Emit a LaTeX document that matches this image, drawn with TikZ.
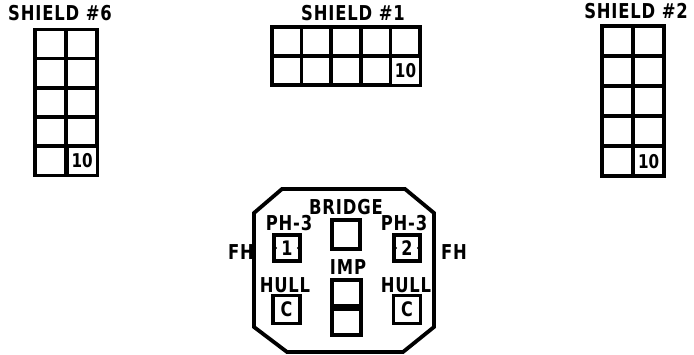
\documentclass[tikz,border=0pt]{standalone}
\usepackage{fontspec}
\setmainfont{DejaVu Sans}[FakeStretch=0.8]
\begin{document}
\begin{tikzpicture}[x=1pt,y=-1pt,
  lbl/.style={inner sep=0pt,font=\fontsize{20.5}{21}\selectfont\bfseries\addfontfeature{LetterSpace=4}},
  gridln/.style={line width=3.6pt,line cap=rect},
  box/.style={draw,line width=3.8pt,inner sep=0pt,font=\fontsize{20}{21}\selectfont\bfseries},
  tenbox/.style={draw,fill=white,line width=1.2pt,inner sep=0pt,font=\fontsize{19}{20}\selectfont\bfseries},
  notch/.style={fill=black}]
\useasboundingbox (0,0) rectangle (694,355);
% Shield 6: 2 cols x 5 rows
\foreach \i in {0,...,5} \draw[gridln] (35,{29.5+\i*29.2}) -- (97,{29.5+\i*29.2});
\foreach \j in {0,1,2} \draw[gridln] ({35+\j*31},29.5) -- ({35+\j*31},175.5);
\node[tenbox,minimum width=28.5pt,minimum height=27pt] (t6) at (82.2,160.9) {10};
\node[lbl] (s6) at (60,13) {SHIELD \#6};
% Shield 1: 5 cols x 2 rows
\foreach \i in {0,1,2} \draw[gridln] (272,{27+\i*29}) -- (420,{27+\i*29});
\foreach \j in {0,...,5} \draw[gridln] ({272+\j*29.6},27) -- ({272+\j*29.6},85);
\node[tenbox,minimum width=27.5pt,minimum height=27pt] (t1) at (405.5,70.7) {10};
\node[lbl] (s1) at (353,13) {SHIELD \#1};
% Shield 2
\foreach \i in {0,...,5} \draw[gridln] (602,{26+\i*30}) -- (664,{26+\i*30});
\foreach \j in {0,1,2} \draw[gridln] ({602+\j*31},26) -- ({602+\j*31},176);
\node[tenbox,minimum width=28.5pt,minimum height=27.5pt] (t2) at (648.7,161.3) {10};
\node[lbl] (s2) at (636,11) {SHIELD \#2};
% octagon
\draw[line width=3.8pt,line join=miter] (282,189) -- (405,189) -- (434,213) -- (434,327) -- (403,352) -- (287,352) -- (254,327) -- (254,213) -- cycle;
% boxes
\node[box,minimum width=26pt,minimum height=26pt] (ph1) at (287,248) {1};
\node[box,minimum width=26pt,minimum height=26pt] (ph2) at (407,248) {2};
\foreach \b in {ph1,ph2}{
  \fill[notch] ([xshift=1.8pt,yshift=3pt]\b.west) -- ([xshift=5pt]\b.west) -- ([xshift=1.8pt,yshift=-3pt]\b.west) -- cycle;
  \fill[notch] ([xshift=-1.8pt,yshift=3pt]\b.east) -- ([xshift=-5pt]\b.east) -- ([xshift=-1.8pt,yshift=-3pt]\b.east) -- cycle;
}
\node[box,minimum width=28pt,minimum height=29pt] (br) at (346,234.5) {};
\node[box,minimum width=27pt,minimum height=28pt] (h1) at (286.5,309.5) {C};
\node[box,minimum width=27pt,minimum height=28pt] (h2) at (407,309.5) {C};
\node[box,minimum width=29pt,minimum height=26pt] (imp1) at (346.5,293) {};
\node[box,minimum width=29pt,minimum height=26pt] (imp2) at (346.5,322) {};
% labels
\node[lbl] (lph1) at (289,223) {PH-3};
\node[lbl] (lph2) at (404,223) {PH-3};
\node[lbl] (lbr) at (346,207) {BRIDGE};
\node[lbl] (lh1) at (285,285) {HULL};
\node[lbl] (lh2) at (406,285) {HULL};
\node[lbl] (limp) at (348,267) {IMP};
\node[lbl] (fh1) at (241,252) {FH};
\node[lbl] (fh2) at (454,252) {FH};
\end{tikzpicture}
\end{document}
